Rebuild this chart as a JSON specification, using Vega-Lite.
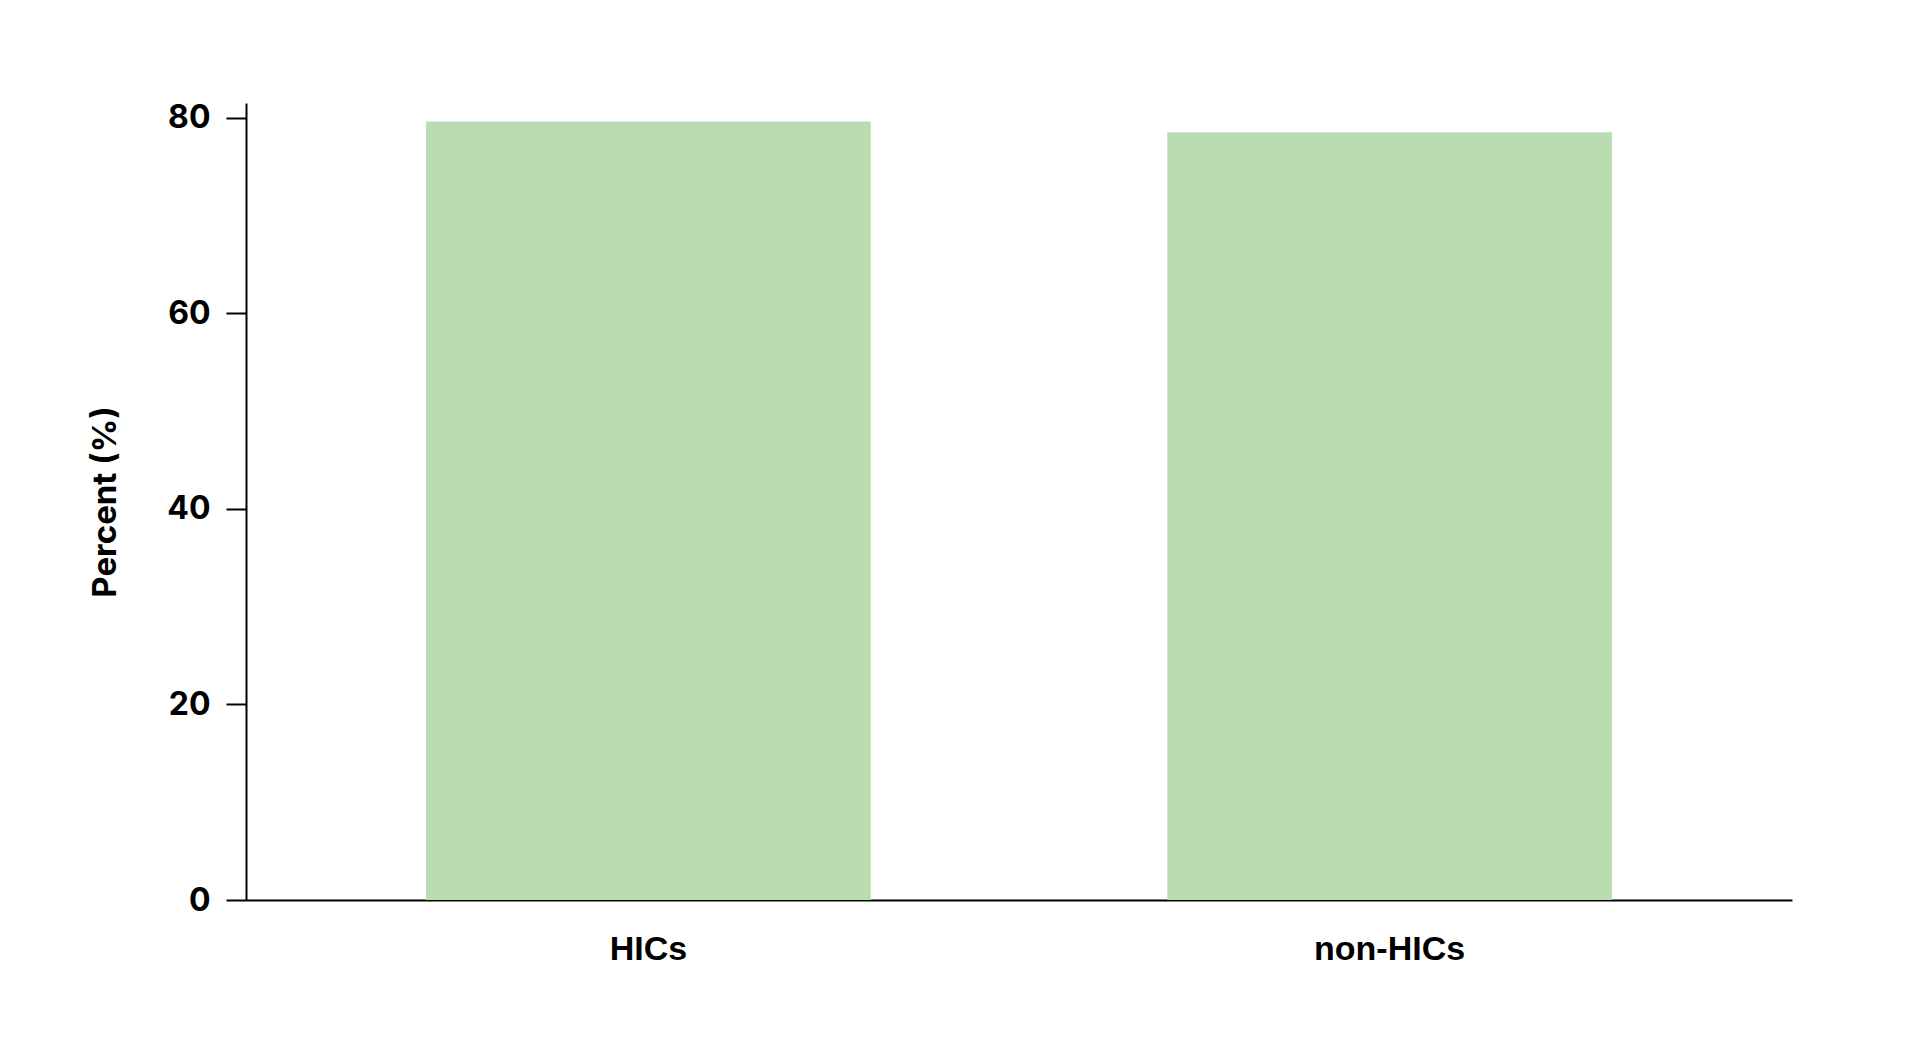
{
  "$schema": "https://vega.github.io/schema/vega-lite/v6.json",
  "autosize": {"type": "none"},
  "padding": {"left": 246, "top": 103, "right": 128, "bottom": 163},
  "width": 1546,
  "height": 797,
  "background": "white",
  "config": {
    "view": {"stroke": null},
    "axis": {
      "domainColor": "black",
      "domainWidth": 2,
      "tickColor": "black",
      "tickWidth": 2,
      "grid": false,
      "labelColor": "black",
      "titleColor": "black"
    }
  },
  "data": {
    "values": [
      {"group": "HICs", "percent": 79.6},
      {"group": "non-HICs", "percent": 78.5}
    ]
  },
  "mark": {"type": "bar", "color": "#bbdbb0"},
  "encoding": {
    "x": {
      "field": "group",
      "type": "nominal",
      "sort": null,
      "scale": {"paddingInner": 0.4, "paddingOuter": 0.243},
      "axis": {
        "title": null,
        "ticks": false,
        "tickSize": 0,
        "labelAngle": 0,
        "labelPadding": 32,
        "labelFont": "Liberation Sans",
        "labelFontSize": 34,
        "labelFontWeight": "bold"
      }
    },
    "y": {
      "field": "percent",
      "type": "quantitative",
      "scale": {"domain": [0, 81.5], "nice": false},
      "axis": {
        "title": "Percent (%)",
        "values": [0, 20, 40, 60, 80],
        "tickSize": 20,
        "labelPadding": 16,
        "labelFont": "Inter",
        "labelFontSize": 32,
        "labelFontWeight": "bold",
        "titleFont": "Inter",
        "titleFontSize": 33,
        "titleFontWeight": "bold",
        "titlePadding": 44
      }
    }
  }
}
